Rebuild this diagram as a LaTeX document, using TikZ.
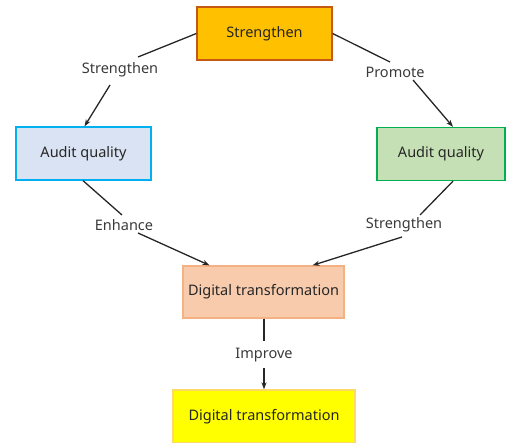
\documentclass[tikz,border=0pt]{standalone}
\usepackage{fontspec}
\setmainfont{Noto Sans}
\usetikzlibrary{arrows.meta}
\definecolor{topfill}{HTML}{FFC000}
\definecolor{topline}{HTML}{C65911}
\definecolor{bluefill}{HTML}{DAE3F3}
\definecolor{blueline}{HTML}{00B0F0}
\definecolor{greenfill}{HTML}{C5E0B4}
\definecolor{greenline}{HTML}{00B050}
\definecolor{peachfill}{HTML}{F8CBAD}
\definecolor{peachline}{HTML}{F4B183}
\definecolor{yelfill}{HTML}{FFFF00}
\definecolor{yelline}{HTML}{FFD966}
\definecolor{ink}{HTML}{262626}
\definecolor{labink}{HTML}{3A3A3A}
\begin{document}
\begin{tikzpicture}[x=1pt,y=-1pt,
  box/.style={draw, line width=1.3pt, minimum width=135pt, minimum height=53pt,
    inner sep=0pt, text=ink, font=\fontsize{14.5}{16}\selectfont},
  lab/.style={inner sep=2pt, text=labink, font=\fontsize{14.5}{16}\selectfont},
  conn/.style={line width=1.3pt, black!85},
  arr/.style={conn, -{Stealth[length=7pt,width=5pt]}}]
\useasboundingbox (0,0) rectangle (506,443);

% boxes
\node[box, fill=topfill, draw=topline] (top) at (264.5,33.5) {Strengthen};
\node[box, fill=bluefill, draw=blueline] (aqL) at (83.5,153.5) {Audit quality};
\node[box, fill=greenfill, draw=greenline, minimum width=128pt] (aqR) at (441,154) {Audit quality};
\node[box, fill=peachfill, draw=peachline, minimum width=161pt, minimum height=52pt] (dt1) at (263.5,292) {Digital transformation};
\node[box, fill=yelfill, draw=yelline, minimum width=182pt] (dt2) at (264,416.5) {Digital transformation};

% connector labels
\node[lab] (l1) at (120,70) {Strengthen};
\node[lab] (l2) at (395,72) {Promote};
\node[lab] (l3) at (124,225) {Enhance};
\node[lab] (l4) at (404,225) {Strengthen};
\node[lab] (l5) at (264,355) {Improve};

% connectors
\draw[conn] (top.west) -- ([shift={(18,-13)}]l1.center);
\draw[arr] ([shift={(-10,15)}]l1.center) -- ([xshift=1pt]aqL.north);

\draw[conn] (top.east) -- ([shift={(-5,-10)}]l2.center);
\draw[arr] ([shift={(18,8)}]l2.center) -- ([xshift=12pt]aqR.north);

\draw[conn] ([xshift=-0.5pt]aqL.south) -- ([shift={(-2,-10)}]l3.center);
\draw[arr] ([shift={(14,8)}]l3.center) -- ([xshift=-54pt]dt1.north);

\draw[conn] ([xshift=12pt]aqR.south) -- ([shift={(16,-10)}]l4.center);
\draw[arr] ([shift={(-2,12)}]l4.center) -- ([xshift=49pt]dt1.north);

\draw[conn] ([xshift=0.5pt]dt1.south) -- ([shift={(0,-14)}]l5.center);
\draw[arr] ([shift={(0,13)}]l5.center) -- (dt2.north);
\end{tikzpicture}
\end{document}
